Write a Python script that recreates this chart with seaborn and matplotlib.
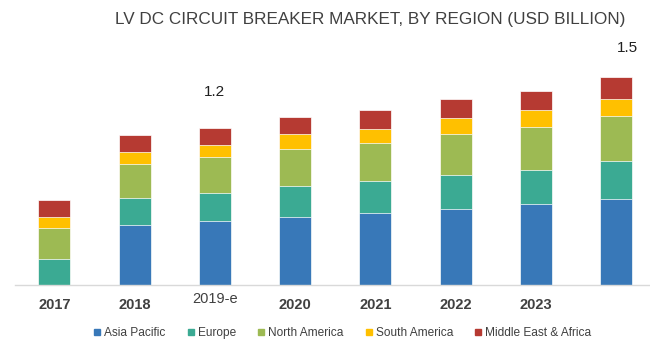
import matplotlib.pyplot as plt
import matplotlib.transforms as mtrans
from matplotlib.lines import Line2D
import seaborn as sns
import pandas as pd

# дані (USD billion)
years = ['2017', '2018', '2019-e', '2020', '2021', '2022', '2023', '2024-p']
tick_labels = ['2017', '2018', '2019-e', '2020', '2021', '2022', '2023', '']
regions = ['Asia Pacific', 'Europe', 'North America', 'South America', 'Middle East & Africa']
asia_pacific = [0.00, 0.43, 0.46, 0.49, 0.52, 0.55, 0.58, 0.62]
europe = [0.19, 0.20, 0.20, 0.22, 0.23, 0.24, 0.25, 0.27]
north_america = [0.22, 0.24, 0.26, 0.27, 0.27, 0.30, 0.31, 0.33]
south_america = [0.08, 0.09, 0.09, 0.11, 0.10, 0.11, 0.12, 0.12]
middle_east_africa = [0.12, 0.12, 0.12, 0.12, 0.14, 0.14, 0.14, 0.16]
total_labels = {'2019-e': '1.2', '2024-p': '1.5'}

colors = ['#3878B8', '#3BAA93', '#9DBA53', '#FFC000', '#B63A32']

df = pd.DataFrame({
    'year': years,
    'Asia Pacific': asia_pacific,
    'Europe': europe,
    'North America': north_america,
    'South America': south_america,
    'Middle East & Africa': middle_east_africa,
})

sns.set_style('white')
plt.rcParams['font.family'] = ['Liberation Sans', 'DejaVu Sans']

fig = plt.figure(figsize=(6.5, 3.61), dpi=100)
ax = fig.add_axes([0.023, 0.2105, 0.977, 0.6785])

# стек: малюємо кумулятивні суми від найвищої до найнижчої
cum = df[regions].cumsum(axis=1)
for reg, col in reversed(list(zip(regions, colors))):
    sns.barplot(x=df['year'], y=cum[reg], order=years, color=col, width=0.4,
                saturation=1, edgecolor='white', linewidth=0.5, ax=ax)

ax.set_xlim(-0.49, 7.42)
ax.set_ylim(0, 1.764)
ax.set_xlabel('')
ax.set_ylabel('')
ax.set_yticks([])
ax.set_xticks(range(len(years)))
ax.set_xticklabels(tick_labels, fontsize=10.5, fontweight='bold', color='#404040')
ax.tick_params(axis='x', length=0, pad=9)
for s in ['top', 'right', 'left']:
    ax.spines[s].set_visible(False)
ax.spines['bottom'].set_color('#D9D9D9')
ax.spines['bottom'].set_linewidth(1)

# 2019-e трохи вище і не жирним
lab = ax.get_xticklabels()[2]
lab.set_fontweight('normal')
lab.set_transform(lab.get_transform() + mtrans.ScaledTranslation(0, 4 / 72, fig.dpi_scale_trans))

# підписи сум
label_pos = {'2019-e': (0.0, 1.39), '2024-p': (0.14, 1.71)}
for yr, txt in total_labels.items():
    i = years.index(yr)
    dx, yv = label_pos[yr]
    ax.text(i + dx, yv, txt, ha='center', va='center', fontsize=11, color='#202020')

fig.text(0.569, 0.945, 'LV DC CIRCUIT BREAKER MARKET, BY REGION (USD BILLION)',
         ha='center', va='center', fontsize=12.3, color='#404040')

handles = [Line2D([0], [0], marker='s', color='none', markerfacecolor=c, markeredgecolor=c,
                  markersize=4.5) for c in colors]
fig.legend(handles, regions, loc='center', bbox_to_anchor=(0.525, 0.077), ncol=5,
           frameon=False, fontsize=8.6, handletextpad=0.1, columnspacing=1.6,
           handlelength=1.0, labelcolor='#404040')

fig.savefig('out.png', dpi=100)
